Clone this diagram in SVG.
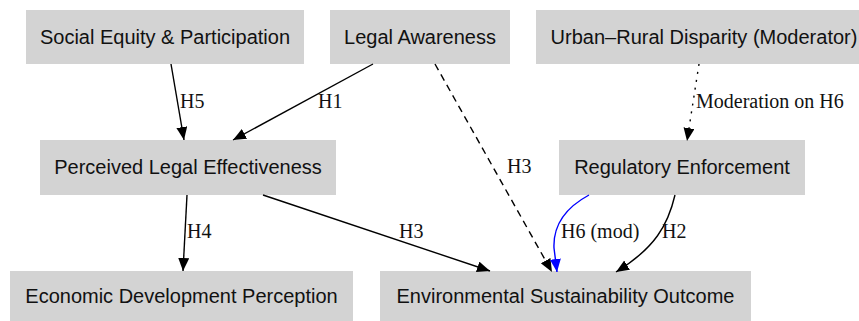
<svg xmlns="http://www.w3.org/2000/svg" width="859" height="321" viewBox="0 0 859 321">
<defs>
<style>
.box{fill:#d3d3d3;stroke:none}
.nt{font-family:"Liberation Sans",Arial,sans-serif;font-size:20px;fill:#111;text-anchor:middle}
.el{font-family:"Liberation Serif","Times New Roman",serif;font-size:20px;fill:#111}
.e{fill:none;stroke:#000;stroke-width:1.4}
</style>
<marker id="ah" markerWidth="14" markerHeight="12" refX="13" refY="5.5" orient="auto" markerUnits="userSpaceOnUse"><path d="M0,0 L13,5.5 L0,11 Z" fill="#000"/></marker>
<marker id="ahb" markerWidth="14" markerHeight="12" refX="13" refY="5.5" orient="auto" markerUnits="userSpaceOnUse"><path d="M0,0 L13,5.5 L0,11 Z" fill="#0000ff"/></marker>
</defs>
<rect width="859" height="321" fill="#fff"/>
<g id="social"><rect class="box" x="26" y="10" width="278" height="54"/><text class="nt" x="165" y="44">Social Equity &amp; Participation</text></g>
<g id="awareness"><rect class="box" x="330" y="10" width="180" height="54"/><text class="nt" x="420" y="44">Legal Awareness</text></g>
<g id="urbanrural"><rect class="box" x="536" y="10" width="336" height="54"/><text class="nt" x="704" y="44">Urban–Rural Disparity (Moderator)</text></g>
<g id="perceived"><rect class="box" x="40" y="140" width="296" height="55"/><text class="nt" x="188" y="174">Perceived Legal Effectiveness</text></g>
<g id="regulatory"><rect class="box" x="559" y="140" width="246" height="55"/><text class="nt" x="682" y="174">Regulatory Enforcement</text></g>
<g id="economic"><rect class="box" x="10" y="271" width="343" height="54"/><text class="nt" x="181.5" y="303">Economic Development Perception</text></g>
<g id="environmental"><rect class="box" x="380" y="271" width="371" height="54"/><text class="nt" x="565.5" y="303">Environmental Sustainability Outcome</text></g>
<g id="connectors">
<path class="e" d="M171,64 L184,140" marker-end="url(#ah)"/>
<text class="el" x="180" y="108">H5</text>
<path class="e" d="M373,64 L233,140" marker-end="url(#ah)"/>
<text class="el" x="318" y="108">H1</text>
<path class="e" d="M435,64 L552,272" stroke-dasharray="7,5" marker-end="url(#ah)"/>
<text class="el" x="507" y="173">H3</text>
<path class="e" d="M699,64 L687,141" stroke-dasharray="2,6" marker-end="url(#ah)"/>
<text class="el" x="696" y="108">Moderation on H6</text>
<path class="e" d="M187,195 L183,271" marker-end="url(#ah)"/>
<text class="el" x="187" y="238">H4</text>
<path class="e" d="M263,195 L490,271" marker-end="url(#ah)"/>
<text class="el" x="399" y="238">H3</text>
<path class="e" style="stroke:#0000ff" d="M589,195 C565,208 553,225 554,248 L557,272" marker-end="url(#ahb)"/>
<text class="el" x="561" y="238">H6 (mod)</text>
<path class="e" d="M675,195 C668,225 655,248 616,272" marker-end="url(#ah)"/>
<text class="el" x="662" y="238">H2</text>
</g>
</svg>
